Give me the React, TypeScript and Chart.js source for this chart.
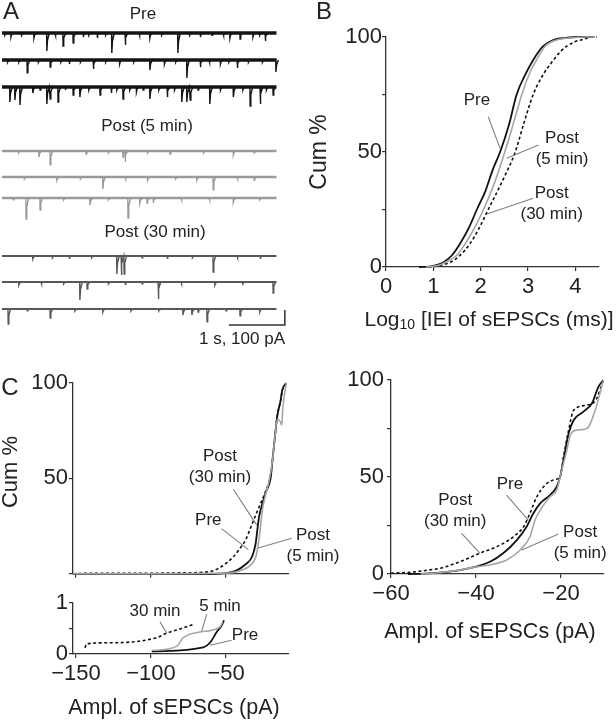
import React, { useEffect, useRef } from 'react';
import { Chart, registerables } from 'chart.js';

Chart.register(...registerables);

const FONT = '"Liberation Sans", Arial, Helvetica, sans-serif';
const INK = '#222';
const AXIS = '#333';
const LEADER = '#808080';
const C_PRE = '#111';
const C_POST5 = '#a6a6a6';
const C_POST30 = '#111';
const C_TR_PRE = '#141414';
const C_TR_POST5 = '#9a9a9a';
const C_TR_POST30 = '#585858';
const TICK_SIZE = 22;

// ---------------- Panel A: traces (time s, amplitude pA) ----------------
const traceDuration = 4.9;
const traceOffsets = [2113, 1933, 1753, 1327, 1153, 1013, 627, 453, 273];
const preT1 = [0.05, 0.16, 0.35, 0.57, 0.8, 0.95, 1.09, 1.27, 1.45, 1.55, 1.7, 1.85, 1.96, 2.2, 2.45, 2.64, 2.85, 3.14, 3.35, 3.54, 3.75, 3.95, 4.07, 4.25, 4.48, 4.6, 4.7];
const preA1 = [15, 27, 15, 33, 120, 15, 87, 67, 27, 15, 33, 15, 133, 80, 15, 33, 15, 133, 15, 27, 15, 15, 33, 40, 27, 15, 53];
const preT2 = [0.1, 0.3, 0.45, 0.65, 0.86, 1.05, 1.2, 1.4, 1.63, 1.85, 2.1, 2.35, 2.64, 2.9, 3.1, 3.3, 3.54, 3.7, 3.9, 4.05, 4.2, 4.4, 4.65, 4.89];
const preA2 = [15, 15, 85, 15, 47, 15, 27, 15, 60, 15, 27, 15, 67, 27, 15, 120, 47, 15, 27, 15, 53, 15, 15, 80];
const preT3 = [0.14, 0.23, 0.32, 0.55, 0.68, 0.8, 0.86, 1.0, 1.13, 1.27, 1.39, 1.55, 1.75, 1.95, 2.05, 2.16, 2.28, 2.4, 2.52, 2.64, 2.8, 2.95, 3.08, 3.21, 3.3, 3.36, 3.5, 3.71, 3.9, 4.13, 4.3, 4.43, 4.61, 4.72, 4.84];
const preA3 = [100, 87, 120, 40, 20, 113, 80, 100, 20, 53, 67, 20, 53, 40, 20, 80, 20, 33, 20, 80, 20, 67, 20, 100, 100, 87, 20, 113, 20, 67, 20, 127, 113, 20, 53];
const p5T1 = [0.3, 0.66, 0.86, 1.5, 1.9, 2.16, 2.2, 2.6, 3.0, 3.6, 4.13, 4.5];
const p5A1 = [12, 40, 93, 20, 12, 40, 73, 12, 20, 12, 27, 12];
const p5T2 = [0.4, 0.98, 1.4, 1.8, 2.2, 2.6, 3.1, 3.48, 3.77, 4.2, 4.5];
const p5A2 = [12, 20, 12, 80, 12, 20, 12, 20, 85, 12, 20];
const p5T3 = [0.2, 0.43, 0.68, 1.1, 1.57, 1.9, 2.25, 2.46, 2.59, 2.7, 3.2, 3.7, 4.13, 4.6];
const p5A3 = [12, 140, 80, 12, 47, 12, 133, 33, 33, 33, 12, 12, 27, 12];
const p30T1 = [0.55, 0.9, 1.2, 1.6, 2.05, 2.13, 2.18, 2.5, 2.95, 3.4, 3.77, 4.2, 4.61];
const p30A1 = [20, 12, 20, 12, 120, 127, 120, 12, 20, 12, 107, 12, 20];
const p30T2 = [0.3, 0.7, 1.1, 1.39, 1.52, 1.9, 2.2, 2.5, 2.79, 3.2, 3.8, 4.3, 4.84];
const p30A2 = [20, 12, 12, 120, 47, 12, 20, 12, 113, 12, 20, 12, 73];
const p30T3 = [0.11, 0.45, 0.86, 1.3, 1.8, 2.3, 2.8, 3.23, 3.39, 3.5, 3.66, 4.0, 4.25, 4.6];
const p30A3 = [100, 12, 60, 12, 20, 12, 12, 40, 40, 20, 85, 12, 45, 20];
const scaleBarStart = 4.05; // s
const scaleBarSeconds = 1;
const scaleBarPA = 100;
const scaleBarBase = 167;

// ---------------- Panel B: log10 IEI CDF ----------------
const bXTicks = [0, 1, 2, 3, 4];
const bYTicks = [0, 25, 50, 75, 100];
const bYLabelled = [0, 50, 100];
const bPreX = [0.7, 0.9, 1.0, 1.1, 1.21, 1.39, 1.56, 1.75, 1.92, 2.1, 2.25, 2.41, 2.6, 2.76, 2.95, 3.11, 3.22, 3.32, 3.53, 3.8, 4.0, 4.4];
const bPreY = [0, 0.2, 0.5, 1, 2, 5, 10, 17, 25, 33, 42, 50, 62, 75, 84, 90, 93.5, 96, 98.7, 99.6, 100, 100];
const bP5X = [0.85, 1.0, 1.15, 1.3, 1.49, 1.67, 1.87, 2.06, 2.3, 2.51, 2.7, 2.87, 3.05, 3.18, 3.28, 3.36, 3.6, 3.9, 4.2, 4.4];
const bP5Y = [0, 0.3, 1, 2.5, 5, 10, 17, 25, 37, 50, 63, 75, 85, 90, 93.5, 96, 98.7, 99.6, 100, 100];
const bP30X = [0.9, 1.05, 1.21, 1.4, 1.56, 1.77, 1.97, 2.16, 2.45, 2.73, 2.92, 3.11, 3.33, 3.54, 3.68, 3.82, 4.0, 4.17, 4.35, 4.45];
const bP30Y = [0, 0.3, 1, 2.5, 5, 10, 17, 25, 37, 50, 63, 75, 84, 90, 93.5, 96, 98, 99, 100, 100];

// ---------------- Panel C left: amplitude CDF (main + inset) ----------------
const clXTicks = [-150, -100, -50];
const clYTicks = [0, 50, 100];
const clYLabelled = [50, 100];
const clPreX = [-152, -60, -55, -50.2, -43.5, -36.9, -32.5, -30.2, -29.1, -28, -25.8, -23.5, -20.2, -19.1, -17.3, -15.8, -13.5, -12.5, -9.8];
const clPreY = [0, 0, 0.1, 0.4, 1.5, 5, 9.2, 16, 23, 29.7, 36.6, 42.6, 50.3, 58.8, 72.5, 82.7, 91.3, 96.4, 100];
const clP5X = [-152, -100, -60, -48, -39.1, -33, -30, -28.4, -27, -25.8, -23.5, -21.3, -19.1, -17.3, -15.8, -14, -12.8, -12.2, -9.8];
const clP5Y = [0, 0.05, 0.3, 0.4, 2, 5, 9.2, 16, 24.6, 33.2, 41.7, 48.6, 58.8, 72.5, 81, 80, 78, 86, 100];
const clP30X = [-152, -145, -100, -80, -68, -59.1, -52.4, -45.8, -41.3, -36.9, -32.5, -28, -23.5, -21.3, -19.1, -17.3, -15.8, -13.5, -12.5, -9.8];
const clP30Y = [0, 0.2, 0.3, 0.5, 0.7, 1.5, 4.1, 8.4, 12.7, 17.8, 26.3, 34.9, 43.4, 48.6, 58.8, 72.5, 83, 91, 96, 100];
const ciYTicks = [0, 0.5, 1];
const ciYLabelled = [0, 1];
const ciPreX = [-99.5, -65.1, -60.7, -56.2, -52.9, -51.3];
const ciPreY = [0.05, 0.13, 0.22, 0.43, 0.56, 0.66];
const ciP5X = [-98.5, -82.9, -78.5, -67.3, -54, -52.2];
const ciP5Y = [0.07, 0.15, 0.32, 0.43, 0.53, 0.63];
const ciP30X = [-144, -142.9, -127.3, -96.2, -89.5, -80.7, -71.8];
const ciP30Y = [0.12, 0.2, 0.22, 0.32, 0.41, 0.49, 0.58];

// ---------------- Panel C right: amplitude CDF ----------------
const crXTicks = [-60, -40, -20];
const crYTicks = [0, 25, 50, 75, 100];
const crYLabelled = [0, 50, 100];
const crPreX = [-56, -52, -48.5, -43.8, -40, -36.7, -33.6, -30.4, -28.1, -26.5, -24.9, -22.6, -21, -20.2, -19.4, -18.2, -17, -14.7, -12.7, -11.2, -10];
const crPreY = [0, 0.2, 0.7, 2, 3.8, 6.3, 10.7, 17.5, 24.4, 31.3, 36.4, 40.7, 45, 50.2, 58.8, 72.5, 79.4, 83.7, 88, 96.5, 100];
const crP5X = [-53, -48, -44, -40.6, -36, -32.8, -29.6, -27.3, -26.1, -24.9, -22.6, -21, -20.2, -18.8, -17.6, -16.1, -13.8, -12.2, -10];
const crP5Y = [0, 0.8, 2, 3.4, 5, 7.2, 12.4, 19.2, 27.8, 33, 39.8, 43.3, 50.2, 62.2, 72.5, 74.2, 75.1, 82.8, 100];
const crP30X = [-60, -55, -50, -48.5, -43.8, -39.1, -35.1, -31.2, -28.8, -27.3, -25.7, -24.1, -21.8, -20.2, -19.4, -18.2, -17, -13.8, -11.8, -10];
const crP30Y = [0.4, 1, 2.4, 2.9, 6.3, 10.7, 14.1, 19.2, 24.4, 31.3, 39.8, 45, 48.5, 50.2, 60.6, 74.2, 84.5, 87.1, 89.7, 100];

// ---------------- helpers ----------------
type Seg = { t: string; size: number; dy?: number };
type PageText = { segs: Seg[]; x: number; y: number; rotate?: boolean };
type DataLabel = { lines: string[]; x: number; y: number };
type Leader = [number, number, number, number];

const T = (t: string, x: number, y: number, size: number, rotate = false): PageText => ({ segs: [{ t, size }], x, y, rotate });
const LABEL_SIZE = 17;
const LINE_H = 21;

function annot(ox: number, oy: number, pageTexts: PageText[], labels: DataLabel[] = [], leaders: Leader[] = []) {
  return {
    id: 'annot',
    afterDatasetsDraw(chart: any) {
      const ctx: CanvasRenderingContext2D = chart.ctx;
      const xs = chart.scales.x;
      const ys = chart.scales.y;
      ctx.save();
      ctx.strokeStyle = LEADER;
      ctx.lineWidth = 1.1;
      ctx.setLineDash([]);
      for (const l of leaders) {
        ctx.beginPath();
        ctx.moveTo(xs.getPixelForValue(l[0]), ys.getPixelForValue(l[1]));
        ctx.lineTo(xs.getPixelForValue(l[2]), ys.getPixelForValue(l[3]));
        ctx.stroke();
      }
      ctx.fillStyle = INK;
      ctx.textBaseline = 'middle';
      ctx.textAlign = 'center';
      ctx.font = `${LABEL_SIZE}px ${FONT}`;
      for (const d of labels) {
        const px = xs.getPixelForValue(d.x);
        const py = ys.getPixelForValue(d.y);
        const n = d.lines.length;
        d.lines.forEach((s, i) => ctx.fillText(s, px, py + (i - (n - 1) / 2) * LINE_H));
      }
      ctx.textAlign = 'left';
      for (const p of pageTexts) {
        ctx.save();
        ctx.translate(p.x - ox, p.y - oy);
        if (p.rotate) ctx.rotate(-Math.PI / 2);
        let total = 0;
        const widths = p.segs.map((s) => {
          ctx.font = `${s.size}px ${FONT}`;
          const w = ctx.measureText(s.t).width;
          total += w;
          return w;
        });
        let x0 = -total / 2;
        p.segs.forEach((s, i) => {
          ctx.font = `${s.size}px ${FONT}`;
          ctx.fillText(s.t, x0, s.dy || 0);
          x0 += widths[i];
        });
        ctx.restore();
      }
      ctx.restore();
    },
  };
}

const fmt = (v: number) => (v < 0 ? '\u2212' + Math.abs(v) : String(v));

function axisX(min: number, max: number, ticks: number[], height: number, showLabels: boolean, pad = 3) {
  return {
    type: 'linear',
    min,
    max,
    afterBuildTicks: (s: any) => {
      s.ticks = ticks.map((v) => ({ value: v }));
    },
    afterFit: (s: any) => {
      s.height = height;
    },
    grid: { display: true, drawOnChartArea: false, drawTicks: true, tickLength: 4, color: AXIS, lineWidth: 1.2 },
    border: { display: true, color: AXIS, width: 1.3 },
    ticks: {
      display: showLabels,
      autoSkip: false,
      maxRotation: 0,
      padding: pad,
      color: INK,
      font: { size: TICK_SIZE, family: FONT },
      callback: (v: number) => fmt(v),
    },
  };
}

function axisY(min: number, max: number, ticks: number[], labelled: number[], width: number, pad = 1) {
  return {
    type: 'linear',
    min,
    max,
    afterBuildTicks: (s: any) => {
      s.ticks = ticks.map((v) => ({ value: v }));
    },
    afterFit: (s: any) => {
      s.width = width;
    },
    grid: { display: true, drawOnChartArea: false, drawTicks: true, tickLength: 4, color: AXIS, lineWidth: 1.2 },
    border: { display: true, color: AXIS, width: 1.3 },
    ticks: {
      autoSkip: false,
      padding: pad,
      color: INK,
      font: { size: TICK_SIZE, family: FONT },
      callback: (v: number) => (labelled.includes(v) ? fmt(v) : ''),
    },
  };
}

const pts = (xs: number[], ys: number[]) => xs.map((x, i) => ({ x, y: ys[i] }));

function cdfSets(pre: [number[], number[]], p5: [number[], number[]], p30: [number[], number[]]) {
  const common = { pointRadius: 0, cubicInterpolationMode: 'monotone', clip: false, fill: false };
  return [
    { label: 'Post (5 min)', data: pts(p5[0], p5[1]), borderColor: C_POST5, borderWidth: 1.6, ...common },
    { label: 'Pre', data: pts(pre[0], pre[1]), borderColor: C_PRE, borderWidth: 1.8, ...common },
    { label: 'Post (30 min)', data: pts(p30[0], p30[1]), borderColor: C_POST30, borderWidth: 1.6, borderDash: [3, 2.5], ...common },
  ];
}

const basePlugins = { legend: { display: false }, tooltip: { enabled: false } };

// ---------------- chart configs ----------------
function configA(ox: number, oy: number) {
  const times = [preT1, preT2, preT3, p5T1, p5T2, p5T3, p30T1, p30T2, p30T3];
  const amps = [preA1, preA2, preA3, p5A1, p5A2, p5A3, p30A1, p30A2, p30A3];
  const colors = [C_TR_PRE, C_TR_PRE, C_TR_PRE, C_TR_POST5, C_TR_POST5, C_TR_POST5, C_TR_POST30, C_TR_POST30, C_TR_POST30];
  const widths = [3.6, 3.6, 3.6, 2.4, 2.4, 2.4, 2.1, 2.1, 2.1];
  const datasets: any[] = [];
  traceOffsets.forEach((off, i) => {
    datasets.push({
      data: [{ x: 0, y: off }, { x: traceDuration, y: off }],
      borderColor: colors[i],
      borderWidth: widths[i],
      pointRadius: 0,
    });
    const ev = times[i].map((t, k) => [t, amps[i][k]]).sort((a, b) => a[0] - b[0]);
    const d: { x: number; y: number }[] = [];
    ev.forEach(([t, a]) => {
      d.push({ x: t - 0.004, y: off }, { x: t, y: off - a }, { x: t + 0.012, y: off - a * 0.4 }, { x: t + 0.045, y: off });
    });
    datasets.push({ data: d, borderColor: colors[i], borderWidth: 1.4, pointRadius: 0 });
  });
  datasets.push({
    data: [
      { x: scaleBarStart, y: scaleBarBase },
      { x: scaleBarStart + scaleBarSeconds, y: scaleBarBase },
      { x: scaleBarStart + scaleBarSeconds, y: scaleBarBase + scaleBarPA },
    ],
    borderColor: '#333',
    borderWidth: 1.5,
    pointRadius: 0,
  });
  return {
    type: 'line',
    data: { datasets },
    options: {
      responsive: false,
      animation: false,
      layout: { padding: 0 },
      plugins: basePlugins,
      scales: {
        x: { type: 'linear', display: false, min: -0.036, max: 5.32 },
        y: { type: 'linear', display: false, min: 0, max: 2333.3 },
      },
    },
    plugins: [
      annot(ox, oy, [
        T('A', 11, 12, 24),
        T('Pre', 143, 14, LABEL_SIZE),
        T('Post (5 min)', 147, 126, LABEL_SIZE),
        T('Post (30 min)', 155, 232, LABEL_SIZE),
        T('1 s, 100 pA', 242, 339, LABEL_SIZE),
      ]),
    ],
  };
}

function configB(ox: number, oy: number) {
  return {
    type: 'line',
    data: { datasets: cdfSets([bPreX, bPreY], [bP5X, bP5Y], [bP30X, bP30Y]) },
    options: {
      responsive: false,
      animation: false,
      layout: { padding: { left: 0, top: 37, right: 17, bottom: 0 } },
      plugins: basePlugins,
      scales: {
        x: axisX(0, 4.5, bXTicks, 73, true, 3),
        y: axisY(0, 100, bYTicks, bYLabelled, 86, 0),
      },
    },
    plugins: [
      annot(
        ox,
        oy,
        [
          T('B', 324, 12, 24),
          T('Cum %', 320, 152, 23, true),
          {
            segs: [
              { t: 'Log', size: 21 },
              { t: '10', size: 14, dy: 5 },
              { t: ' [IEI of sEPSCs (ms)]', size: 21 },
            ],
            x: 489,
            y: 320,
          },
        ],
        [
          { lines: ['Pre'], x: 1.92, y: 72.6 },
          { lines: ['Post', '(5 min)'], x: 3.72, y: 51.5 },
          { lines: ['Post', '(30 min)'], x: 3.5, y: 27.3 },
        ],
        [
          [2.16, 65.3, 2.41, 51.6],
          [3.22, 53, 2.55, 47.3],
          [3.11, 29.9, 2.13, 23],
        ]
      ),
    ],
  };
}

function configCL(ox: number, oy: number) {
  return {
    type: 'line',
    data: { datasets: cdfSets([clPreX, clPreY], [clP5X, clP5Y], [clP30X, clP30Y]) },
    options: {
      responsive: false,
      animation: false,
      layout: { padding: { left: 0, top: 23, right: 61, bottom: 0 } },
      plugins: basePlugins,
      scales: {
        x: axisX(-152, -8, clXTicks, 10, false),
        y: axisY(0, 100, clYTicks, clYLabelled, 73, 1),
      },
    },
    plugins: [
      annot(
        ox,
        oy,
        [T('C', 10, 388, 24), T('Cum %', 11, 472, 22, true)],
        [
          { lines: ['Post', '(30 min)'], x: -54, y: 55.9 },
          { lines: ['Pre'], x: -61.8, y: 28 },
          { lines: ['Post', '(5 min)'], x: 8, y: 14.9 },
        ],
        [
          [-45.1, 44.3, -29.5, 25.5],
          [-52.9, 23.7, -35.1, 12.7],
          [-6.2, 18.6, -28.5, 13.5],
        ]
      ),
    ],
  };
}

function configCI(ox: number, oy: number) {
  return {
    type: 'line',
    data: { datasets: cdfSets([ciPreX, ciPreY], [ciP5X, ciP5Y], [ciP30X, ciP30Y]) },
    options: {
      responsive: false,
      animation: false,
      layout: { padding: { left: 0, top: 15, right: 11, bottom: 0 } },
      plugins: basePlugins,
      scales: {
        x: axisX(-152, -8, clXTicks, 66, true, 3),
        y: axisY(0, 1, ciYTicks, ciYLabelled, 73, 1),
      },
    },
    plugins: [
      annot(
        ox,
        oy,
        [T('Ampl. of sEPSCs (pA)', 174, 708, 21.5)],
        [
          { lines: ['30 min'], x: -97.3, y: 0.83 },
          { lines: ['5 min'], x: -54, y: 0.93 },
          { lines: ['Pre'], x: -37.3, y: 0.36 },
        ],
        [
          [-94, 0.63, -89.5, 0.41],
          [-62.9, 0.78, -66.2, 0.45],
          [-46.2, 0.27, -60.7, 0.17],
        ]
      ),
    ],
  };
}

function configCR(ox: number, oy: number) {
  return {
    type: 'line',
    data: { datasets: cdfSets([crPreX, crPreY], [crP5X, crP5Y], [crP30X, crP30Y]) },
    options: {
      responsive: false,
      animation: false,
      layout: { padding: { left: 0, top: 20, right: 12.5, bottom: 0 } },
      plugins: basePlugins,
      scales: {
        x: axisX(-60, -10, crXTicks, 86, true, 3),
        y: axisY(0, 100, crYTicks, crYLabelled, 91, 3),
      },
    },
    plugins: [
      annot(
        ox,
        oy,
        [T('Ampl. of sEPSCs (pA)', 490, 632, 21.5)],
        [
          { lines: ['Pre'], x: -32, y: 46.4 },
          { lines: ['Post', '(30 min)'], x: -44.9, y: 32.5 },
          { lines: ['Post', '(5 min)'], x: -15.5, y: 16.2 },
        ],
        [
          [-32.8, 40.7, -27.7, 27.8],
          [-43.4, 21, -39.1, 10.7],
          [-20.6, 20.6, -29.2, 12.4],
        ]
      ),
    ],
  };
}

function ChartBox(props: { left: number; top: number; width: number; height: number; build: (ox: number, oy: number) => any }) {
  const { left, top, width, height, build } = props;
  const ref = useRef<HTMLCanvasElement>(null);
  useEffect(() => {
    const chart = new Chart(ref.current as HTMLCanvasElement, build(left, top));
    return () => chart.destroy();
  }, []);
  return (
    <div style={{ position: 'absolute', left, top, width, height }}>
      <canvas ref={ref} width={width} height={height} style={{ width, height, display: 'block' }} />
    </div>
  );
}

export default function App() {
  return (
    <div style={{ position: 'absolute', left: 0, top: 0, width: 616, height: 720, background: '#fff', overflow: 'hidden' }}>
      <ChartBox left={0} top={0} width={300} height={350} build={configA} />
      <ChartBox left={300} top={0} width={316} height={340} build={configB} />
      <ChartBox left={300} top={360} width={316} height={300} build={configCR} />
      <ChartBox left={0} top={360} width={350} height={228} build={configCL} />
      <ChartBox left={0} top={588} width={300} height={132} build={configCI} />
    </div>
  );
}
